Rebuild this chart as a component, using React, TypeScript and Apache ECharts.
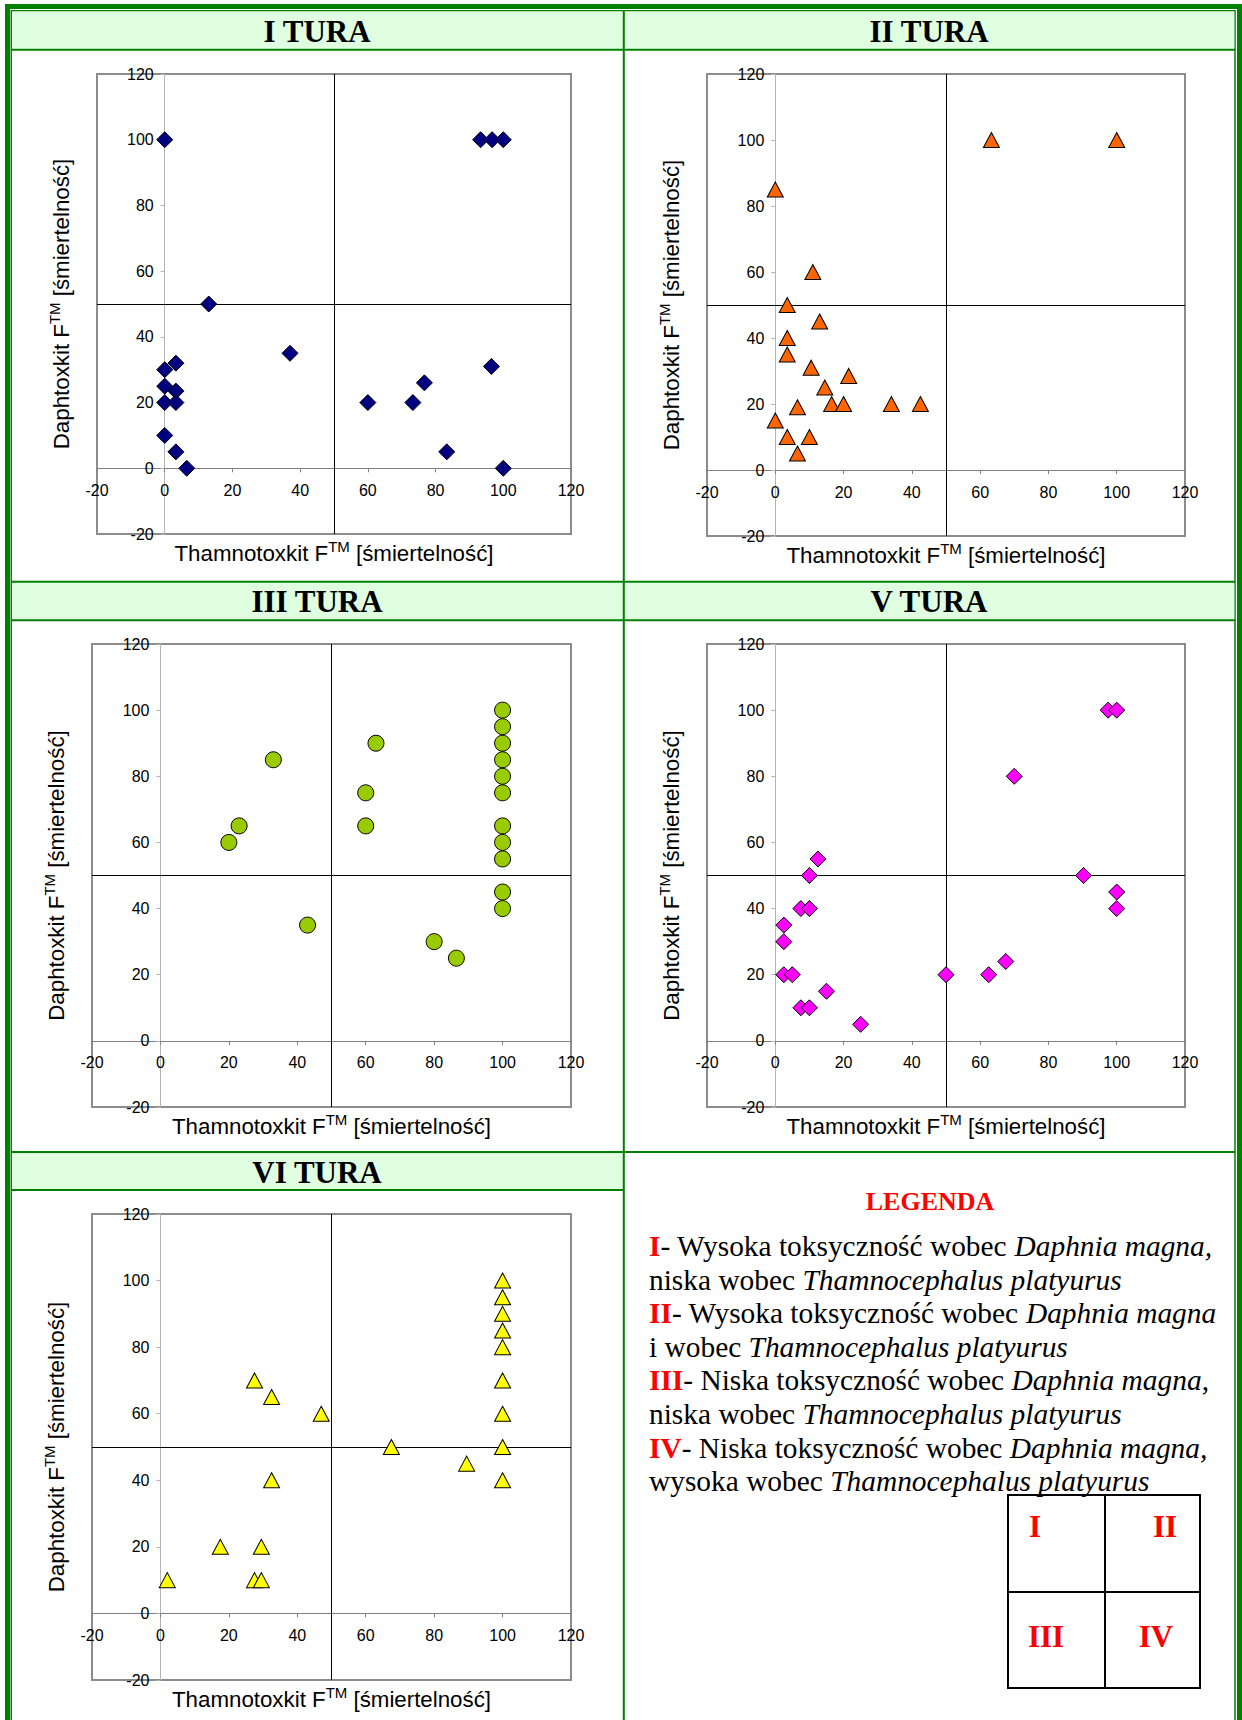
import { useEffect, useRef } from "react";
import * as echarts from "echarts";

// Thamnotoxkit (x) vs Daphtoxkit (y) mortality, % — one array per test round
const tura1: number[][] = [
  [0, 100], [13, 50], [37, 35], [0, 30], [3.3, 32], [0, 25], [3.3, 23.5],
  [0, 20], [3.3, 20], [0, 10], [3.3, 5], [6.5, 0], [60, 20], [73.3, 20],
  [76.7, 26], [83.3, 5], [96.5, 31], [100, 0], [93.3, 100], [96.7, 100], [100, 100],
];
const tura2: number[][] = [
  [63.3, 100], [100, 100], [0, 85], [11, 60], [3.5, 50], [13, 45], [3.5, 40],
  [3.5, 35], [10.5, 31], [21.5, 28.5], [14.5, 25], [6.5, 19], [16.5, 20],
  [20, 20], [34, 20], [42.5, 20], [0, 15], [3.5, 10], [10, 10], [6.5, 5],
];
const tura3: number[][] = [
  [20, 60], [23, 65], [33, 85], [43, 35], [60, 75], [60, 65], [63, 90],
  [80, 30], [86.5, 25], [100, 100], [100, 95], [100, 90], [100, 85], [100, 80],
  [100, 75], [100, 65], [100, 60], [100, 55], [100, 45], [100, 40],
];
const tura5: number[][] = [
  [97.5, 100], [100, 100], [70, 80], [90.3, 50], [100, 45], [100, 40],
  [12.5, 55], [10, 50], [7.5, 40], [10, 40], [2.5, 35], [2.5, 30], [2.5, 20],
  [5, 20], [7.5, 10], [10, 10], [15, 15], [25, 5], [50, 20], [62.5, 20], [67.5, 24],
];
const tura6: number[][] = [
  [2, 10], [17.5, 20], [27.5, 10], [29.5, 10], [29.5, 20], [32.5, 40],
  [27.5, 70], [32.5, 65], [47, 60], [67.5, 50], [89.5, 45], [100, 100],
  [100, 95], [100, 90], [100, 85], [100, 80], [100, 70], [100, 60], [100, 50], [100, 40],
];

const panelTitles = ["I TURA", "II TURA", "III TURA", "V TURA", "VI TURA"];
const axisMin = -20;
const axisMax = 120;
const axisStep = 20;
const threshold = 50;

const xAxisTitle = ["Thamnotoxkit F", "TM", " [śmiertelność]"];
const yAxisTitle = ["Daphtoxkit F", "TM", " [śmiertelność]"];

const legendHeading = "LEGENDA";
const legendLines: string[][][] = [
  [["r", "I"], ["n", "- Wysoka toksyczność wobec "], ["i", "Daphnia magna,"]],
  [["n", "niska wobec "], ["i", "Thamnocephalus platyurus"]],
  [["r", "II"], ["n", "- Wysoka toksyczność wobec "], ["i", "Daphnia magna"]],
  [["n", "i wobec "], ["i", "Thamnocephalus platyurus"]],
  [["r", "III"], ["n", "- Niska toksyczność wobec "], ["i", "Daphnia magna"], ["n", ","]],
  [["n", "niska wobec "], ["i", "Thamnocephalus platyurus"]],
  [["r", "IV"], ["n", "- Niska toksyczność wobec "], ["i", "Daphnia magna,"]],
  [["n", "wysoka wobec "], ["i", "Thamnocephalus platyurus"]],
];
const quadrantLabels = ["I", "II", "III", "IV"];

const GREEN = "#008000";
const BAND = "#E0FFE0";
const SANS = "Liberation Sans";
const SERIF = "Liberation Serif";

type Panel = {
  title: string;
  data: number[][];
  symbol: string;
  size: number[];
  color: string;
  grid: { left: number; top: number; width: number; height: number };
  titleX: number;
  titleY: number;
};

const panels: Panel[] = [
  { title: panelTitles[0], data: tura1, symbol: "diamond", size: [16, 16], color: "#000080",
    grid: { left: 97, top: 74, width: 474, height: 460 }, titleX: 317, titleY: 31 },
  { title: panelTitles[1], data: tura2, symbol: "triangle", size: [16, 15], color: "#FF6600",
    grid: { left: 707, top: 74, width: 478, height: 462 }, titleX: 929, titleY: 31 },
  { title: panelTitles[2], data: tura3, symbol: "circle", size: [16, 16], color: "#99CC00",
    grid: { left: 92, top: 644, width: 479, height: 463 }, titleX: 317, titleY: 601 },
  { title: panelTitles[3], data: tura5, symbol: "diamond", size: [16, 16], color: "#FF00FF",
    grid: { left: 707, top: 644, width: 478, height: 463 }, titleX: 929, titleY: 601 },
  { title: panelTitles[4], data: tura6, symbol: "triangle", size: [16, 15], color: "#FFFF00",
    grid: { left: 92, top: 1214, width: 479, height: 466 }, titleX: 317, titleY: 1172 },
];

function axisTitleText(parts: string[]) {
  return `{t|${parts[0]}}{s|${parts[1]}}{t|${parts[2]}}`;
}

const axisTitleRich = {
  t: { fontFamily: SANS, fontSize: 22.3, fill: "#000", lineHeight: 28 },
  s: { fontFamily: SANS, fontSize: 15, fill: "#000", lineHeight: 14, verticalAlign: "top" },
};

function line(x1: number, y1: number, x2: number, y2: number, w: number, color = GREEN) {
  return { type: "line", shape: { x1, y1, x2, y2 }, style: { stroke: color, lineWidth: w }, silent: true };
}

function buildGraphics() {
  const g: any[] = [];
  // page frame: thick outer border and thin inner border
  g.push({ type: "rect", shape: { x: 7.5, y: 6.5, width: 1232, height: 2000 },
    style: { fill: "none", stroke: GREEN, lineWidth: 5 }, silent: true });
  g.push({ type: "rect", shape: { x: 11.3, y: 10.7, width: 1223.7, height: 2000 },
    style: { fill: "none", stroke: GREEN, lineWidth: 1.5 }, silent: true });
  // title bands
  g.push({ type: "rect", shape: { x: 12, y: 11.4, width: 1222.3, height: 37.3 }, style: { fill: BAND }, silent: true });
  g.push({ type: "rect", shape: { x: 12, y: 582.7, width: 1222.3, height: 36.6 }, style: { fill: BAND }, silent: true });
  g.push({ type: "rect", shape: { x: 12, y: 1153, width: 611, height: 36 }, style: { fill: BAND }, silent: true });
  g.push(line(11, 49.7, 1235, 49.7, 2));
  g.push(line(11, 581.8, 1235, 581.8, 2));
  g.push(line(11, 620.3, 1235, 620.3, 2));
  g.push(line(11, 1152, 1235, 1152, 2));
  g.push(line(11, 1190, 624, 1190, 2));
  // column divider
  g.push(line(623.8, 10.7, 623.8, 1720, 2));

  panels.forEach((p) => {
    g.push({ type: "text", x: p.titleX, y: p.titleY, silent: true,
      style: { text: p.title, fontFamily: SERIF, fontWeight: "bold", fontSize: 31, fill: "#000",
        align: "center", verticalAlign: "middle" } });
    const gr = p.grid;
    g.push({ type: "text", x: gr.left + gr.width / 2, y: gr.top + gr.height + 19, silent: true,
      style: { text: axisTitleText(xAxisTitle), rich: axisTitleRich, align: "center", verticalAlign: "middle" } });
    g.push({ type: "text", x: gr.left - 36, y: gr.top + gr.height / 2, rotation: Math.PI / 2, silent: true,
      style: { text: axisTitleText(yAxisTitle), rich: axisTitleRich, align: "center", verticalAlign: "middle" } });
  });

  // legend
  g.push({ type: "text", x: 930, y: 1201, silent: true,
    style: { text: legendHeading, fontFamily: SERIF, fontWeight: "bold", fontSize: 26, fill: "#FF0000",
      align: "center", verticalAlign: "middle" } });
  const legendRich = {
    r: { fontFamily: SERIF, fontSize: 29.4, fontWeight: "bold", fill: "#FF0000" },
    n: { fontFamily: SERIF, fontSize: 29.4, fill: "#000" },
    i: { fontFamily: SERIF, fontSize: 29.4, fontStyle: "italic", fill: "#000" },
  };
  legendLines.forEach((segs, k) => {
    g.push({ type: "text", x: 649, y: 1246 + k * 33.6, silent: true,
      style: { text: segs.map(([s, t]) => `{${s}|${t}}`).join(""), rich: legendRich,
        align: "left", verticalAlign: "middle" } });
  });
  // quadrant key
  g.push({ type: "rect", shape: { x: 1008, y: 1495, width: 192, height: 193 },
    style: { fill: "none", stroke: "#000", lineWidth: 2 }, silent: true });
  g.push(line(1105, 1495, 1105, 1688, 2, "#000"));
  g.push(line(1008, 1592, 1200, 1592, 2, "#000"));
  const qPos = [[1035, 1526], [1165, 1526], [1046, 1636], [1156, 1636]];
  quadrantLabels.forEach((q, k) => {
    g.push({ type: "text", x: qPos[k][0], y: qPos[k][1], silent: true,
      style: { text: q, fontFamily: SERIF, fontWeight: "bold", fontSize: 31, fill: "#FF0000",
        align: "center", verticalAlign: "middle" } });
  });
  return g;
}

// distance (px) from the grid's bottom/left edge to the zero line
function zeroShift(span: number) {
  return (span * (0 - axisMin)) / (axisMax - axisMin);
}

function buildOption() {
  const labelStyle = { fontFamily: SANS, fontSize: 16, color: "#000" };
  return {
    animation: false,
    backgroundColor: "#fff",
    grid: panels.map((p) => ({ ...p.grid, show: true, borderColor: "#8c8c8c", borderWidth: 2,
      backgroundColor: "transparent" })),
    xAxis: panels.map((p, i) => ({
      gridIndex: i, type: "value", min: axisMin, max: axisMax, interval: axisStep,
      position: "bottom", offset: -zeroShift(p.grid.height),
      axisLine: { onZero: false, lineStyle: { color: "#808080", width: 1 } },
      axisTick: { show: true, length: 4, lineStyle: { color: "#808080" } },
      axisLabel: { ...labelStyle, margin: 14, showMinLabel: true, showMaxLabel: true },
      splitLine: { show: false },
    })),
    yAxis: panels.map((p, i) => ({
      gridIndex: i, type: "value", min: axisMin, max: axisMax, interval: axisStep,
      position: "left", offset: -zeroShift(p.grid.width),
      axisLine: { onZero: false, lineStyle: { color: "#b4b4b4", width: 1 } },
      axisTick: { show: true, length: 4, lineStyle: { color: "#b4b4b4" } },
      axisLabel: { ...labelStyle, margin: 11, showMinLabel: true, showMaxLabel: true },
      splitLine: { show: false },
    })),
    series: [
      // quadrant dividers at 50 % mortality
      ...panels.map((_, i) => ({
        type: "scatter", xAxisIndex: i, yAxisIndex: i, data: [], z: 1,
        markLine: { silent: true, z: 1, symbol: ["none", "none"], label: { show: false },
          lineStyle: { color: "#000", width: 1, type: "solid" },
          data: [{ xAxis: threshold }, { yAxis: threshold }] },
      })),
      ...panels.map((p, i) => ({
        type: "scatter", name: p.title, xAxisIndex: i, yAxisIndex: i, data: p.data, z: 3,
        symbol: p.symbol, symbolSize: p.size,
        itemStyle: { color: p.color, borderColor: "#000", borderWidth: 1, opacity: 1 },
      })),
    ],
    graphic: buildGraphics(),
  };
}

export default function App() {
  const ref = useRef<HTMLDivElement>(null);
  useEffect(() => {
    if (!ref.current) return;
    const chart = echarts.init(ref.current, undefined, { renderer: "svg" });
    chart.setOption(buildOption() as any);
    return () => chart.dispose();
  }, []);
  return (
    <div
      ref={ref}
      style={{ position: "absolute", left: 0, top: 0, width: 1242, height: 1720, background: "#fff" }}
    />
  );
}
